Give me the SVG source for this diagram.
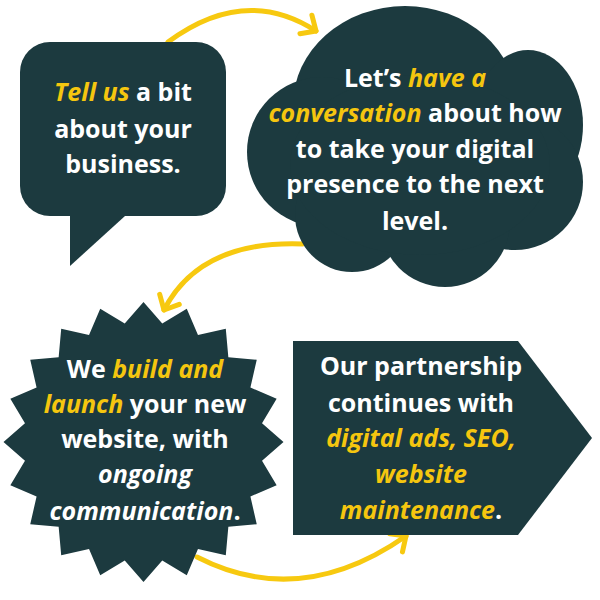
<svg xmlns="http://www.w3.org/2000/svg" width="600" height="600" viewBox="0 0 600 600">
<style>
.shape{fill:#1c3a3f}
.t{font-family:"Open Sans","Noto Sans","Liberation Sans",sans-serif;font-weight:700;font-size:25px;fill:#ffffff;text-anchor:middle}
.y{fill:#f5c60f;font-style:italic}
.i{font-style:italic}
.conn{fill:none;stroke:#f7c910;stroke-width:5;stroke-linecap:round;stroke-linejoin:round}
</style>
<defs>
<marker id="chev" markerUnits="userSpaceOnUse" markerWidth="40" markerHeight="40" viewBox="-20 -20 40 40" refX="0" refY="0" orient="auto">
<path d="M-12,-11 L0,0 L-12,11" fill="none" stroke="#f7c910" stroke-width="5" stroke-linecap="round" stroke-linejoin="round"/>
</marker>
</defs>
<rect width="600" height="600" fill="#ffffff"/>
<g id="connectors">
<path class="conn" d="M168,42 Q245,-15 316,31" marker-end="url(#chev)"/>
<path class="conn" d="M303,244 Q200,240 164,310" marker-end="url(#chev)"/>
<path class="conn" d="M197,557 Q300,610 406,536" marker-end="url(#chev)"/>
</g>
<g id="node-tell">
<rect class="shape" x="20" y="42" width="206" height="174" rx="30"/>
<polygon class="shape" points="70,205 125,205 125,216 70,266"/>
<text class="t" x="123" y="101"><tspan class="y">Tell us</tspan> a bit</text>
<text class="t" x="123" y="138">about your</text>
<text class="t" x="123" y="173">business.</text>
</g>
<g id="node-conversation">
<ellipse class="shape" cx="405" cy="105" rx="112" ry="99"/>
<circle class="shape" cx="322" cy="152" r="75"/>
<ellipse class="shape" cx="528" cy="125" rx="55" ry="75"/>
<circle class="shape" cx="515" cy="182" r="68"/>
<circle class="shape" cx="445" cy="222" r="65"/>
<circle class="shape" cx="352" cy="215" r="57"/>
<ellipse class="shape" cx="420" cy="165" rx="130" ry="90"/>
<text class="t" x="415" y="87">Let’s <tspan class="y">have a</tspan></text>
<text class="t" x="415" y="122"><tspan class="y">conversation</tspan> about how</text>
<text class="t" x="415" y="158">to take your digital</text>
<text class="t" x="415" y="193">presence to the next</text>
<text class="t" x="415" y="230">level.</text>
</g>
<g id="node-build">
<polygon class="shape" points="143.5,302 162.27,323.48 186.76,308.85 197.98,335.08 225.79,328.74 228.35,357.15 256.76,359.71 250.42,387.52 276.65,398.74 262.02,423.23 283.5,442 262.02,460.77 276.65,485.26 250.42,496.48 256.76,524.29 228.35,526.85 225.79,555.26 197.98,548.92 186.76,575.15 162.27,560.52 143.5,582 124.73,560.52 100.24,575.15 89.02,548.92 61.21,555.26 58.65,526.85 30.24,524.29 36.58,496.48 10.35,485.26 24.98,460.77 3.5,442 24.98,423.23 10.35,398.74 36.58,387.52 30.24,359.71 58.65,357.15 61.21,328.74 89.02,335.08 100.24,308.85 124.73,323.48"/>
<text class="t" x="145" y="378">We <tspan class="y">build and</tspan></text>
<text class="t" x="145" y="413"><tspan class="y">launch</tspan> your new</text>
<text class="t" x="145" y="448">website, with</text>
<text class="t" x="145" y="483"><tspan class="i">ongoing</tspan></text>
<text class="t" x="145" y="520"><tspan class="i">communication</tspan>.</text>
</g>
<g id="node-partnership">
<polygon class="shape" points="293,341 518,341 592,438 518,535 293,535"/>
<text class="t" x="421" y="375">Our partnership</text>
<text class="t" x="421" y="412">continues with</text>
<text class="t" x="421" y="447"><tspan class="y">digital ads, SEO,</tspan></text>
<text class="t" x="421" y="483"><tspan class="y">website</tspan></text>
<text class="t" x="421" y="519"><tspan class="y">maintenance</tspan>.</text>
</g>
</svg>
